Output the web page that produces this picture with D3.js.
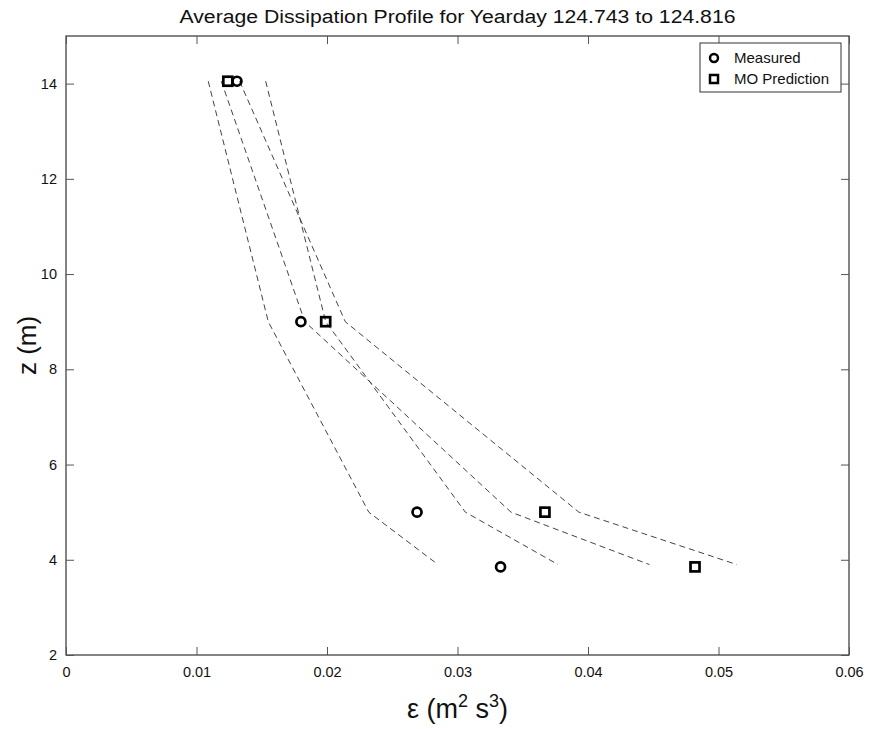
<!DOCTYPE html>
<html>
<head>
<meta charset="utf-8">
<script src="https://cdn.jsdelivr.net/npm/d3@7/dist/d3.min.js"></script>
<style>
body{margin:0;background:#fff;}
svg{display:block;font-family:"Liberation Sans",Arial,sans-serif;}
</style>
</head>
<body>
<svg id="chart" width="869" height="729"></svg>
<script>
// ---- data ----
const title = "Average Dissipation Profile for Yearday 124.743 to 124.816";
const xTicks = [0, 0.01, 0.02, 0.03, 0.04, 0.05, 0.06];
const yTicks = [2, 4, 6, 8, 10, 12, 14];
const markerDepths = [14.05, 9.0, 5.0, 3.85];
const measured = [0.0131, 0.0180, 0.0269, 0.0333];
const moPrediction = [0.0124, 0.0199, 0.0367, 0.0482];
const lineDepths = [14.05, 9.0, 5.0, 3.9];
const dash1 = [0.0109, 0.0155, 0.0232, 0.0285];
const dash2 = [0.0119, 0.0183, 0.0341, 0.0447];
const dash3 = [0.0133, 0.0214, 0.0393, 0.0514];
const dash4 = [0.0153, 0.0199, 0.0306, 0.0377];
const legendLabels = ["Measured", "MO Prediction"];

// ---- layout ----
const svg = d3.select("#chart");
const pL = 66, pR = 849, pT = 36, pB = 655;
const x = d3.scaleLinear().domain([0, 0.06]).range([pL, pR]);
const y = d3.scaleLinear().domain([2, 15]).range([pB, pT]);

// frame
svg.append("rect").attr("x", pL).attr("y", pT).attr("width", pR-pL).attr("height", pB-pT)
  .attr("fill", "none").attr("stroke", "#333").attr("stroke-width", 1.2);

const tickLen = 8;
const fmtX = d => d === 0 ? "0" : d3.format(".2f")(d);
const xb = svg.append("g").attr("transform", `translate(0,${pB})`)
  .call(d3.axisBottom(x).tickValues(xTicks).tickFormat(fmtX).tickSizeInner(-tickLen).tickSizeOuter(0).tickPadding(12));
const xt = svg.append("g").attr("transform", `translate(0,${pT})`)
  .call(d3.axisTop(x).tickValues(xTicks).tickFormat("").tickSizeInner(-tickLen).tickSizeOuter(0));
const yl = svg.append("g").attr("transform", `translate(${pL},0)`)
  .call(d3.axisLeft(y).tickValues(yTicks).tickFormat(d3.format("d")).tickSizeInner(-tickLen).tickSizeOuter(0).tickPadding(9));
const yr = svg.append("g").attr("transform", `translate(${pR},0)`)
  .call(d3.axisRight(y).tickValues(yTicks).tickFormat("").tickSizeInner(-tickLen).tickSizeOuter(0));
[xb, xt, yl, yr].forEach(g => {
  g.select(".domain").remove();
  g.selectAll(".tick line").attr("stroke", "#555");
  g.selectAll("text").attr("font-size", 14.5).attr("fill", "#111")
    .attr("font-family", "'Liberation Sans', Arial, sans-serif");
});

// title
svg.append("text").attr("x", (pL+pR)/2).attr("y", 23).attr("text-anchor", "middle")
  .attr("font-size", 18).attr("fill", "#111")
  .attr("textLength", 556).attr("lengthAdjust", "spacingAndGlyphs").text(title);

// axis labels
const xl = svg.append("text").attr("x", (pL+pR)/2).attr("y", 718).attr("text-anchor", "middle")
  .attr("font-size", 27).attr("fill", "#111");
xl.append("tspan").text("ε (m");
xl.append("tspan").attr("dy", -11).attr("font-size", 18).text("2");
xl.append("tspan").attr("dy", 11).text(" s");
xl.append("tspan").attr("dy", -11).attr("font-size", 18).text("3");
xl.append("tspan").attr("dy", 11).text(")");

svg.append("text").attr("transform", `translate(36,${(pT+pB)/2}) rotate(-90)`)
  .attr("text-anchor", "middle").attr("font-size", 26).attr("fill", "#111").text("z (m)");

// dashed lines
const line = d3.line().x(d => x(d[0])).y(d => y(d[1]));
[dash1, dash2, dash3, dash4].forEach(s => {
  svg.append("path").datum(s.map((v, i) => [v, lineDepths[i]]))
    .attr("d", line).attr("fill", "none").attr("stroke", "#444")
    .attr("stroke-width", 1).attr("stroke-dasharray", "6,4");
});

// markers
svg.append("g").selectAll("circle").data(measured).join("circle")
  .attr("cx", d => x(d)).attr("cy", (d, i) => y(markerDepths[i])).attr("r", 4.5)
  .attr("fill", "none").attr("stroke", "#000").attr("stroke-width", 2.7);
svg.append("g").selectAll("rect").data(moPrediction).join("rect")
  .attr("x", d => x(d) - 4.5).attr("y", (d, i) => y(markerDepths[i]) - 4.5)
  .attr("width", 9).attr("height", 9)
  .attr("fill", "none").attr("stroke", "#000").attr("stroke-width", 2.7);

// legend
const lg = svg.append("g");
lg.append("rect").attr("x", 700).attr("y", 43).attr("width", 141).attr("height", 49)
  .attr("fill", "#fff").attr("stroke", "#333").attr("stroke-width", 1);
lg.append("circle").attr("cx", 714).attr("cy", 58).attr("r", 4)
  .attr("fill", "none").attr("stroke", "#000").attr("stroke-width", 2.5);
lg.append("rect").attr("x", 710).attr("y", 75).attr("width", 8).attr("height", 8)
  .attr("fill", "none").attr("stroke", "#000").attr("stroke-width", 2.5);
legendLabels.forEach((t, i) => {
  lg.append("text").attr("x", 734).attr("y", 63 + i*21).attr("font-size", 15)
    .attr("fill", "#111").text(t);
});
</script>
</body>
</html>
